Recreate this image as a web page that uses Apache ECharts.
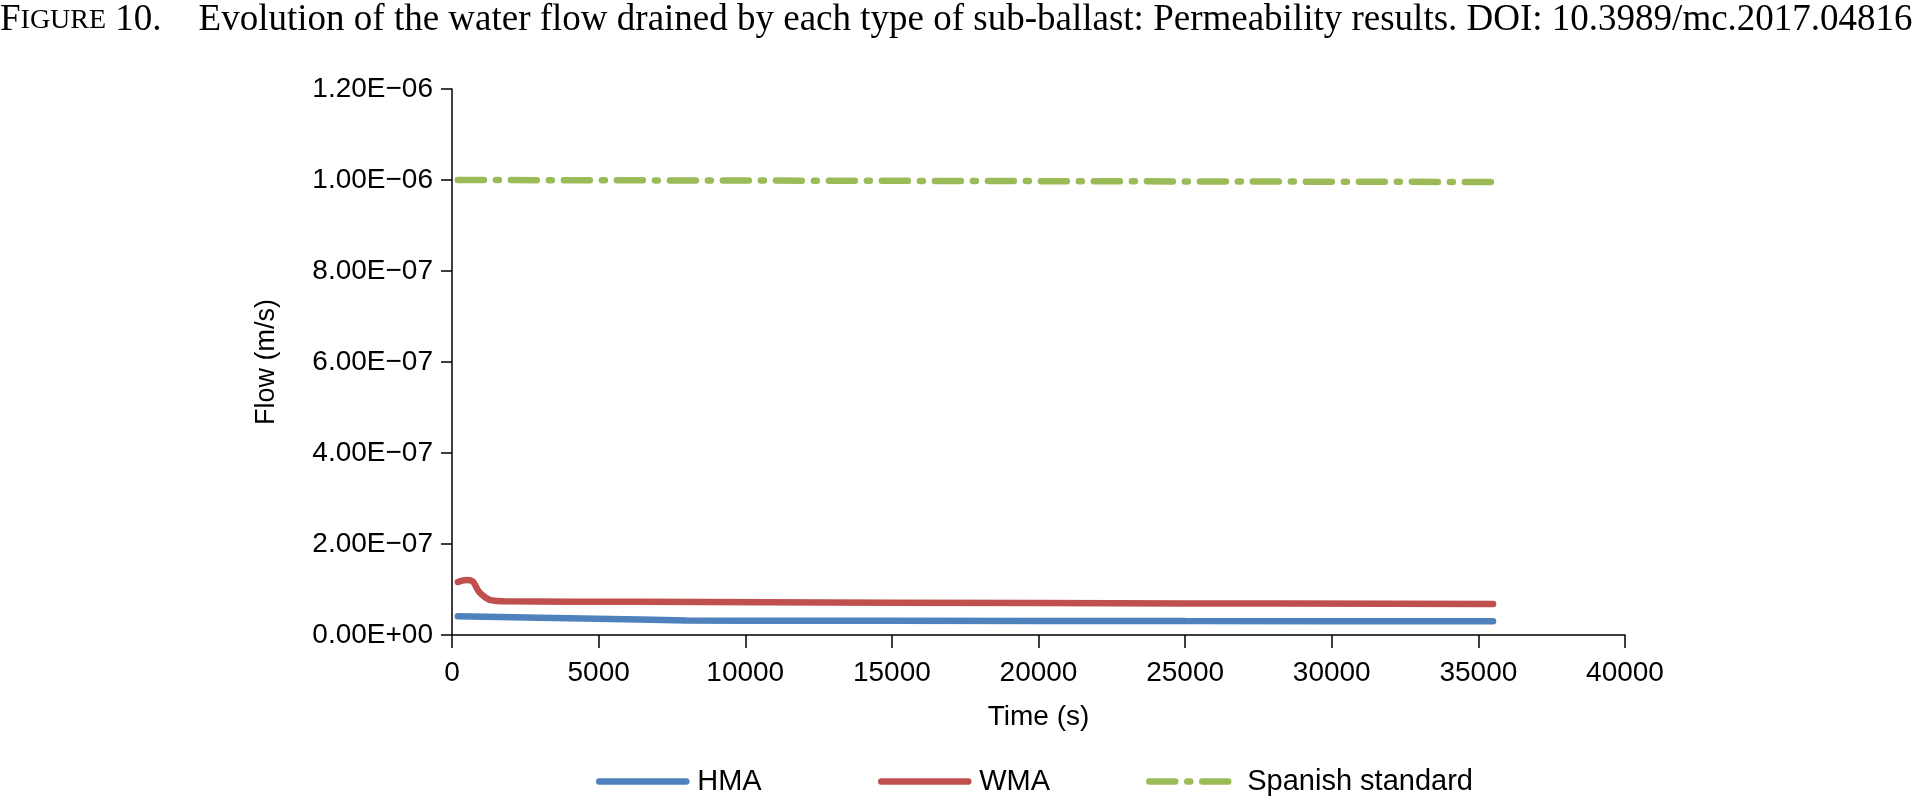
<!DOCTYPE html>
<html>
	<head>
		<meta charset="utf-8" />
		<title>Figure 10</title>
		<script type="text/javascript" src="https://cdn.jsdelivr.net/npm/echarts@6/dist/echarts.min.js"></script>
		<style>
			html,body{ margin:0; padding:0; background:#fff;}
			#chart{ width:1920px; height:798px;}
		</style>
	</head>
	<body>
		<div id="chart"></div>
	</body>
</html>
<script>
	//时间 (s)
	var timeHMA=[200,3000,6400,8000,10000,15000,20000,25000,30000,35500];
	var flowHMA=[4.1e-8,3.8e-8,3.4e-8,3.2e-8,3.15e-8,3.12e-8,3.1e-8,3.05e-8,3.02e-8,3.0e-8];
	var timeWMA=[200,500,700,920,1150,1360,1800,6400,15000,25000,35500];
	var flowWMA=[1.165e-7,1.21e-7,1.18e-7,9.5e-8,8.2e-8,7.6e-8,7.4e-8,7.3e-8,7.1e-8,6.95e-8,6.8e-8];
	var timeStd=[200,35500];
	var flowStd=[1.0e-6,0.9956e-6];
	var seriesNames=['HMA','WMA','Spanish standard'];
	var colors=['#4F81BD','#C0504D','#9BBB59'];
	var legendLeft=[596,878,1146];

	function pairs(xs,ys){
		var out=[];
		for(var i=0;i<xs.length;i++){
			out.push([xs[i],ys[i]]);
		}
		return out;
	}
	//1.20E-06 样式
	function sci(v){
		if(v===0) return '0.00E+00';
		var s=v.toExponential(2).split('e');
		var e=parseInt(s[1],10);
		var sign=e<0?'\u2212':'+';
		var a=Math.abs(e);
		return s[0]+'E'+sign+(a<10?'0'+a:a);
	}

	var font='"Liberation Sans", Arial, sans-serif';
	var myChart=echarts.init(document.getElementById('chart'));
	var legends=[];
	for(var i=0;i<3;i++){
		legends.push({
			data:[seriesNames[i]],
			left:legendLeft[i],
			top:767,
			padding:0,
			itemWidth:87,
			itemHeight:14,
			itemGap:0,
			textStyle:{fontFamily:font,fontSize:29,color:'#000',padding:[0,0,0,6]},
			itemStyle:{opacity:0},
			lineStyle:{width:6.5,cap:'round'}
		});
	}
	var lineData=[pairs(timeHMA,flowHMA),pairs(timeWMA,flowWMA),pairs(timeStd,flowStd)];
	var series=[];
	for(var j=0;j<3;j++){
		series.push({
			name:seriesNames[j],
			type:'line',
			data:lineData[j],
			symbol:'none',
			smooth:j==1?0.4:false,
			animation:false,
			silent:true,
			lineStyle:{
				color:colors[j],
				width:6.5,
				cap:'round',
				type:j==2?[26,12,3,12]:'solid'
			},
			itemStyle:{color:colors[j]}
		});
	}
	var option={
		color:colors,
		title:{
			text:'{a|F}{b|IGURE} 10.    Evolution of the water flow drained by each type of sub-ballast: Permeability results. DOI: 10.3989/mc.2017.04816',
			left:0,
			top:2,
			padding:0,
			textStyle:{
				fontFamily:'"Liberation Serif", "Times New Roman", serif',
				fontSize:37,
				fontWeight:'normal',
				color:'#000',
				rich:{
					a:{fontFamily:'"Liberation Serif", serif',fontSize:37,color:'#000'},
					b:{fontFamily:'"Liberation Serif", serif',fontSize:28,color:'#000'}
				}
			}
		},
		legend:legends,
		grid:{left:452,right:295,top:89,bottom:163},
		xAxis:{
			type:'value',
			min:0,
			max:40000,
			interval:5000,
			name:'Time (s)',
			nameLocation:'middle',
			nameGap:68,
			nameTextStyle:{fontFamily:font,fontSize:28,color:'#000'},
			axisLine:{show:true,lineStyle:{color:'#000',width:1.5}},
			axisTick:{show:true,inside:false,length:13,lineStyle:{color:'#000',width:1.5}},
			axisLabel:{fontFamily:font,fontSize:28,color:'#000',margin:24,formatter:function(v){return String(v);}},
			splitLine:{show:false}
		},
		yAxis:{
			type:'value',
			min:0,
			max:1.2e-6,
			interval:2e-7,
			name:'Flow (m/s)',
			nameLocation:'middle',
			nameGap:172,
			nameTextStyle:{fontFamily:font,fontSize:27,color:'#000'},
			axisLine:{show:true,lineStyle:{color:'#000',width:1.5}},
			axisTick:{show:true,inside:false,length:11,lineStyle:{color:'#000',width:1.5}},
			axisLabel:{fontFamily:font,fontSize:28,color:'#000',margin:19,formatter:sci},
			splitLine:{show:false}
		},
		series:series
	};
	myChart.setOption(option);
</script>
